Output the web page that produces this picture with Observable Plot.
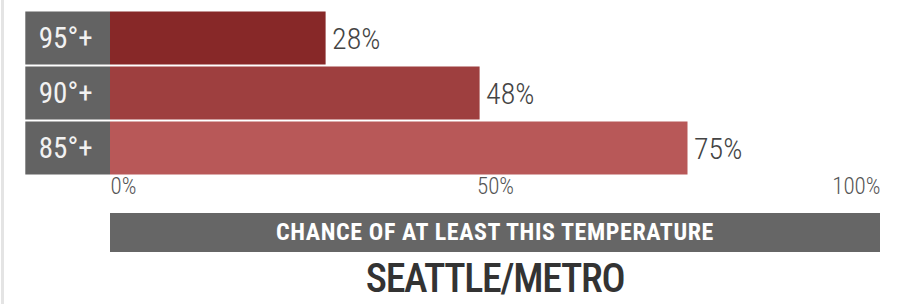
<!DOCTYPE html>
<html>
<head>
<meta charset="utf-8">
<script src="https://cdn.jsdelivr.net/npm/d3@7"></script>
<script src="https://cdn.jsdelivr.net/npm/@observablehq/plot@0.6"></script>
<style>
  html, body { margin: 0; padding: 0; background: #fff; }
  body { width: 898px; height: 304px; overflow: hidden; position: relative;
         font-family: "Roboto Condensed", "Liberation Sans Narrow", "DejaVu Sans Condensed", Roboto, sans-serif; }
  #card { position: absolute; left: 1px; top: -20px; width: 940px; height: 360px;
          border: 3px solid #e4e4e4; border-radius: 10px; box-sizing: border-box; }
  #chart { position: absolute; left: 0; top: 0; }
  #band { position: absolute; top: 213px; height: 39px; background: #666;
          color: #fff; font-size: 24px; font-weight: 700; text-align: center; line-height: 39px;
          letter-spacing: 0.6px; }
  #title { position: absolute; top: 262px; height: 34px; text-align: center; color: #333;
           font-size: 40px; font-weight: 500; line-height: 34px; letter-spacing: -1.3px; }
</style>
</head>
<body>
<div id="card"></div>
<div id="chart"></div>
<div id="band"></div>
<div id="title"></div>
<script>
const categories = ["95°+", "90°+", "85°+"];
const values = [28, 48, 75];
const colors = ["#872828", "#9e3f3f", "#b85858"];
const tickValues = [0, 50, 100];
const tickLabels = ["0%", "50%", "100%"];
const axisTitle = "CHANCE OF AT LEAST THIS TEMPERATURE";
const chartTitle = "SEATTLE/METRO";

const rows = categories.map((c, i) => ({category: c, value: values[i], color: colors[i]}));
const labelStart = -11; // label column extends left of 0% in data units

const fontFam = getComputedStyle(document.body).fontFamily;

const plot = Plot.plot({
  width: 898,
  height: 200,
  marginLeft: 110,
  marginRight: 18,
  marginTop: 10,
  marginBottom: 25,
  style: {fontFamily: fontFam, background: "transparent", overflow: "visible"},
  x: {domain: [0, 100], axis: null},
  y: {domain: categories, axis: null, paddingInner: 0.02, paddingOuter: 0},
  marks: [
    Plot.barX(rows, {y: "category", x1: labelStart, x2: 0, fill: "#636363", insetTop: 0.5, insetBottom: 0.5}),
    Plot.barX(rows, {y: "category", x: "value", fill: "color", insetTop: 0.5, insetBottom: 0.5}),
    Plot.text(rows, {y: "category", x: labelStart, text: "category", textAnchor: "start", dx: 13,
                     fill: "#f2f2f2", fontSize: 29, fontWeight: 400}),
    Plot.text(rows, {y: "category", x: "value", text: d => d.value + "%", textAnchor: "start", dx: 6,
                     dy: 1, fill: "#444", fontSize: 30, fontWeight: 300}),
    Plot.text([tickValues[0]], {x: d => d, frameAnchor: "bottom", dy: 18, text: () => tickLabels[0],
                     textAnchor: "start", fill: "#555", fontSize: 23, fontWeight: 300, letterSpacing: 0.5}),
    Plot.text([tickValues[1]], {x: d => d, frameAnchor: "bottom", dy: 18, text: () => tickLabels[1],
                     textAnchor: "middle", fill: "#555", fontSize: 23, fontWeight: 300, letterSpacing: 0.5}),
    Plot.text([tickValues[2]], {x: d => d, frameAnchor: "bottom", dy: 18, text: () => tickLabels[2],
                     textAnchor: "end", fill: "#555", fontSize: 23, fontWeight: 300, letterSpacing: 0.5})
  ]
});
document.getElementById("chart").appendChild(plot);

const xs = plot.scale("x");
const x0 = xs.apply(0), x1 = xs.apply(100);
const band = document.getElementById("band");
band.style.left = x0 + "px";
band.style.width = (x1 - x0) + "px";
band.textContent = axisTitle;
const title = document.getElementById("title");
title.style.left = x0 + "px";
title.style.width = (x1 - x0) + "px";
title.textContent = chartTitle;
</script>
</body>
</html>
